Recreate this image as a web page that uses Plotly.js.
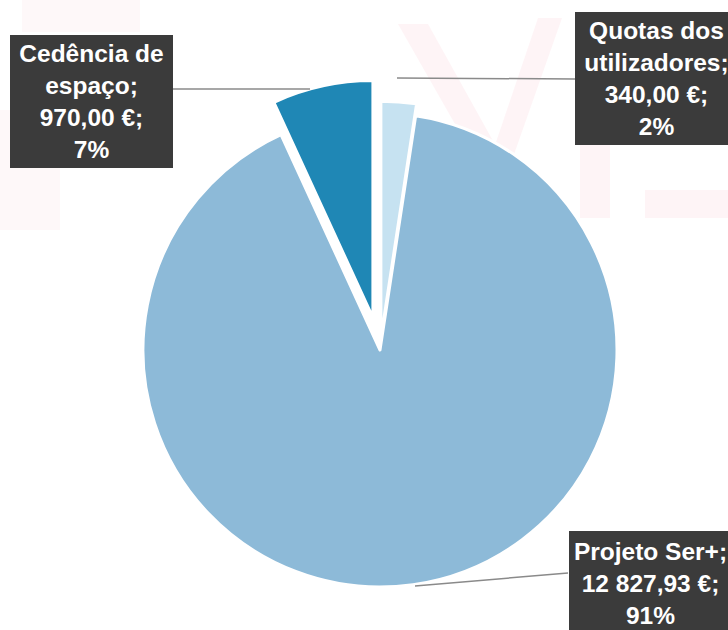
<!DOCTYPE html>
<html>
<head>
<meta charset="utf-8">
<script src="https://cdn.plot.ly/plotly-3.0.1.min.js"></script>
<style>html,body{margin:0;padding:0;background:#fff;}#chart{width:728px;height:630px;}</style>
</head>
<body>
<div id="chart"></div>
<script>
// ---- data ----
const categories = ["Quotas dos utilizadores", "Projeto Ser+", "Cedência de espaço"];
const labelLines = ["Quotas dos<br>utilizadores", "Projeto Ser+", "Cedência de<br>espaço"];
const values = [340.00, 12827.93, 970.00];
const colors = ["#c6e2f1", "#8dbad8", "#1f87b5"];
const pulls = [0.05, 0, 0.14];

// ---- helpers ----
const W = 728, H = 630;
const px = x => x / W;
const py = y => 1 - y / H;
function fmtEuro(v) {
  const parts = v.toFixed(2).split(".");
  const intPart = parts[0].replace(/\B(?=(\d{3})+(?!\d))/g, " ");
  return intPart + "," + parts[1] + " €";
}
const total = values.reduce((a, b) => a + b, 0);
const labelText = values.map((v, i) =>
  labelLines[i] + ";<br>" + fmtEuro(v) + ";<br>" + Math.round(v / total * 100) + "%");

// pie placement: radius ~237px, centre (380,350)
const half = 237 * (1 + Math.max(...pulls));
const cx = 380, cy = 350;

const trace = {
  type: "pie",
  labels: categories,
  values: values,
  sort: false,
  direction: "clockwise",
  rotation: 0,
  pull: pulls,
  textinfo: "none",
  hoverinfo: "label+value+percent",
  marker: { colors: colors, line: { color: "#ffffff", width: 3 } },
  domain: { x: [px(cx - half), px(cx + half)], y: [py(cy + half), py(cy - half)] },
  showlegend: false
};

const boxFont = { family: "Liberation Sans, Arial, sans-serif", size: 24.5, color: "#ffffff", weight: "bold" };
function box(i, x, y, h) {
  return {
    xref: "paper", yref: "paper", x: px(x), y: py(y),
    xanchor: "center", yanchor: "middle",
    text: "<b>" + labelText[i] + "</b>", showarrow: false,
    font: boxFont, bgcolor: "#3b3b3b", borderpad: 5, borderwidth: 0,
    width: 153, height: h, align: "center", valign: "middle"
  };
}
const annotations = [
  box(2, 91.5, 101.5, 123),
  box(0, 656, 78.5, 123),
  box(1, 650, 583, 95)
];

const lineStyle = { color: "#8a8a8a", width: 1.5 };
const wm = "rgba(240,120,135,0.08)";
function poly(pts) {
  return "M" + pts.map(p => px(p[0]) + "," + py(p[1])).join(" L") + " Z";
}
const shapes = [
  // faint watermark
  { type: "path", xref: "paper", yref: "paper", layer: "below", line: { width: 0 }, fillcolor: wm,
    path: poly([[398, 24], [428, 24], [512, 175], [484, 175]]) },
  { type: "path", xref: "paper", yref: "paper", layer: "below", line: { width: 0 }, fillcolor: wm,
    path: poly([[538, 18], [562, 18], [512, 160], [490, 160]]) },
  { type: "path", xref: "paper", yref: "paper", layer: "below", line: { width: 0 }, fillcolor: wm,
    path: poly([[580, 140], [610, 140], [610, 218], [580, 218]]) },
  { type: "path", xref: "paper", yref: "paper", layer: "below", line: { width: 0 }, fillcolor: wm,
    path: poly([[645, 190], [728, 190], [728, 218], [645, 218]]) },
  { type: "path", xref: "paper", yref: "paper", layer: "below", line: { width: 0 }, fillcolor: "rgba(240,120,135,0.05)",
    path: poly([[0, 110], [60, 110], [60, 230], [0, 230]]) },
  { type: "path", xref: "paper", yref: "paper", layer: "below", line: { width: 0 }, fillcolor: "rgba(240,120,135,0.05)",
    path: poly([[22, 0], [140, 0], [140, 32], [22, 32]]) },
  // leader lines
  { type: "line", xref: "paper", yref: "paper", x0: px(173), y0: py(89), x1: px(310), y1: py(89), line: lineStyle },
  { type: "line", xref: "paper", yref: "paper", x0: px(397), y0: py(78), x1: px(575), y1: py(79), line: lineStyle },
  { type: "line", xref: "paper", yref: "paper", x0: px(415), y0: py(586), x1: px(568), y1: py(573), line: lineStyle }
];

const layout = {
  width: W, height: H,
  margin: { l: 0, r: 0, t: 0, b: 0 },
  paper_bgcolor: "#ffffff",
  plot_bgcolor: "#ffffff",
  showlegend: false,
  annotations: annotations,
  shapes: shapes
};

Plotly.newPlot("chart", [trace], layout, { displayModeBar: false, staticPlot: true });
</script>
</body>
</html>
